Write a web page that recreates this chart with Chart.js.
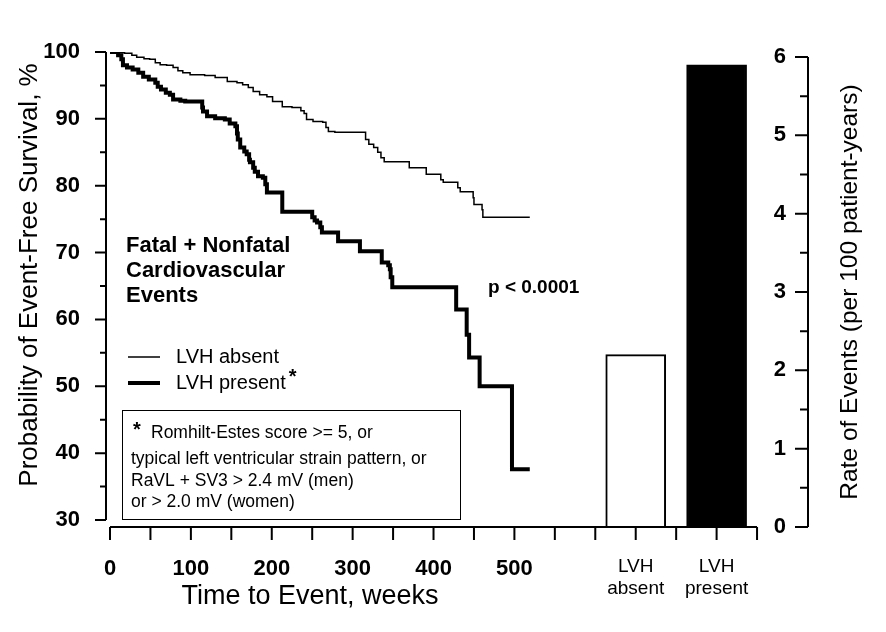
<!DOCTYPE html>
<html>
<head>
<meta charset="utf-8">
<title>LVH and cardiovascular events</title>
<script src="https://cdn.jsdelivr.net/npm/chart.js@4.4.0/dist/chart.umd.min.js"></script>
<style>
  html, body { margin: 0; padding: 0; background: #fff; }
  canvas { display: block; }
</style>
</head>
<body>
<canvas id="myChart" width="886" height="632"></canvas>
<script>
// Kaplan-Meier curves (weeks, % event-free)
const weeksAbsent = [0, 10, 18, 27, 33, 42, 49, 56, 62, 70, 78, 84, 90, 99, 117, 130, 145, 157, 164, 171,
  177, 185, 194, 201, 213, 225, 236, 240, 243, 251, 263, 267, 270, 278, 316, 320, 326, 331, 335, 339,
  370, 391, 409, 412, 430, 433, 449, 450, 460, 461, 519];
const survAbsent = [100, 99.9, 99.8, 99.5, 99.2, 99.0, 98.9, 98.4, 98.1, 98.0, 97.7, 97.2, 96.9, 96.6, 96.5, 96.2, 95.6, 95.4, 95.1, 94.7,
  94.1, 93.6, 93.3, 92.6, 91.8, 91.7, 91.2, 90.8, 89.9, 89.6, 89.5, 88.7, 88.1, 88.0, 86.9, 86.2, 85.7, 85.0, 84.2, 83.6,
  82.7, 81.7, 80.9, 80.5, 79.7, 79.1, 78.2, 77.2, 76.4, 75.3, 75.3];

const weeksPresent = [0, 10, 14, 16, 21, 28, 35, 41, 48, 56, 59, 63, 69, 74, 78, 87, 93, 114, 115, 120,
  130, 142, 148, 155, 157, 158, 161, 166, 169, 172, 173, 177, 179, 183, 189, 192, 194, 213, 250, 253,
  256, 260, 262, 282, 309, 336, 344, 346, 347, 349, 428, 441, 444, 457, 497, 519];
const survPresent = [100, 99.5, 98.9, 98.0, 97.7, 97.4, 96.9, 96.3, 95.9, 95.4, 94.8, 94.4, 93.9, 93.6, 92.9, 92.7, 92.6, 91.7, 91.1, 90.4,
  90.1, 89.9, 89.3, 88.9, 87.8, 86.9, 85.7, 85.1, 84.7, 83.9, 83.5, 82.7, 82.1, 81.4, 81.2, 80.2, 79.0, 76.1, 75.3, 74.8,
  74.5, 73.8, 73.0, 71.7, 70.2, 68.5, 68.1, 67.5, 66.3, 64.8, 61.5, 57.7, 54.3, 50.0, 37.6, 37.6];

// event rate per 100 patient-years
const groups = [["LVH", "absent"], ["LVH", "present"]];
const rates = [2.2, 5.9];

const weekLabels = [0, 100, 200, 300, 400, 500];
const survLabels = [30, 40, 50, 60, 70, 80, 90, 100];
const rateLabels = [0, 1, 2, 3, 4, 5, 6];

Chart.defaults.font.family = '"Liberation Sans", Arial, Helvetica, sans-serif';
Chart.defaults.color = '#000';

const groupAt = (i) => 650 + 100 * i; // bars sit after the week axis
const groupIndex = (v) => groups.findIndex((g, i) => groupAt(i) === v);

const xTicks = [];
for (let v = 0; v <= 800; v += 50) xTicks.push(v);
const yTicks = [];
for (let v = 30; v <= 100; v += 5) yTicks.push(v);
const y2Ticks = [];
for (let v = 0; v <= 6; v += 0.5) y2Ticks.push(v);

const extras = {
  id: 'extras',
  afterDraw(chart) {
    const ctx = chart.ctx;
    const x = chart.scales.x, y = chart.scales.y, y2 = chart.scales.y2;
    const fam = Chart.defaults.font.family;
    ctx.save();
    ctx.strokeStyle = '#000';
    ctx.fillStyle = '#000';
    ctx.lineWidth = 2;

    // axes lines + ticks
    ctx.beginPath();
    const xl = y.right;
    ctx.moveTo(xl, y.getPixelForValue(30));
    ctx.lineTo(xl, y.getPixelForValue(100));
    y.ticks.forEach(t => {
      const py = y.getPixelForValue(t.value);
      const len = t.value % 10 === 0 ? 11 : 6;
      ctx.moveTo(xl - len, py); ctx.lineTo(xl, py);
    });
    const xr = y2.left;
    ctx.moveTo(xr, y2.getPixelForValue(0));
    ctx.lineTo(xr, y2.getPixelForValue(6));
    y2.ticks.forEach(t => {
      const py = y2.getPixelForValue(t.value);
      const len = t.value % 1 === 0 ? 13 : 8;
      ctx.moveTo(xr - len, py); ctx.lineTo(xr, py);
    });
    const yb = x.top;
    ctx.moveTo(x.getPixelForValue(0), yb);
    ctx.lineTo(x.getPixelForValue(800), yb);
    x.ticks.forEach(t => {
      const px = x.getPixelForValue(t.value);
      ctx.moveTo(px, yb); ctx.lineTo(px, yb + 13);
    });
    ctx.stroke();

    // right axis labels sit inside the axis line
    ctx.font = 'bold 22px ' + fam;
    ctx.textAlign = 'right';
    ctx.textBaseline = 'middle';
    y2.ticks.forEach(t => {
      if (rateLabels.includes(t.value)) ctx.fillText(String(t.value), xr - 22, y2.getPixelForValue(t.value));
    });

    // axis titles
    ctx.textBaseline = 'alphabetic';
    ctx.textAlign = 'center';
    ctx.font = '27px ' + fam;
    ctx.fillText('Time to Event, weeks', 310, 604);
    ctx.save();
    ctx.translate(37, 275);
    ctx.rotate(-Math.PI / 2);
    ctx.font = '26px ' + fam;
    ctx.fillText('Probability of Event-Free Survival, %', 0, 0);
    ctx.restore();
    ctx.save();
    ctx.translate(857, 292);
    ctx.rotate(-Math.PI / 2);
    ctx.font = '24.5px ' + fam;
    ctx.fillText('Rate of Events (per 100 patient-years)', 0, 0);
    ctx.restore();

    // legend
    ctx.textAlign = 'left';
    ctx.textBaseline = 'middle';
    chart.data.datasets.slice(0, 2).forEach((ds, i) => {
      const ly = 357 + i * 26;
      ctx.lineWidth = ds.borderWidth;
      ctx.beginPath();
      ctx.moveTo(128, ly); ctx.lineTo(160, ly);
      ctx.stroke();
      ctx.font = '20px ' + fam;
      ctx.fillText(ds.label, 176, ly);
      if (i === 1) {
        const w = ctx.measureText(ds.label).width;
        ctx.font = 'bold 20px ' + fam;
        ctx.fillText('*', 176 + w + 3, ly - 6);
      }
    });

    // event label + p value
    ctx.textBaseline = 'alphabetic';
    ctx.font = 'bold 22px ' + fam;
    ['Fatal + Nonfatal', 'Cardiovascular', 'Events'].forEach((s, i) => ctx.fillText(s, 126, 252 + i * 25));
    ctx.font = 'bold 19px ' + fam;
    ctx.textBaseline = 'middle';
    ctx.fillText('p < 0.0001', 488, 288);

    // footnote box
    ctx.lineWidth = 1;
    ctx.strokeRect(122.5, 410.5, 338, 109);
    ctx.font = 'bold 20px ' + fam;
    ctx.fillText('*', 133, 430);
    ctx.font = '17.5px ' + fam;
    ctx.fillText('Romhilt-Estes score >= 5, or', 151, 433);
    ctx.fillText('typical left ventricular strain pattern, or', 131, 459);
    ctx.fillText('RaVL + SV3 > 2.4 mV (men)', 131, 481);
    ctx.fillText('or > 2.0 mV (women)', 131, 502);
    ctx.restore();
  }
};

new Chart(document.getElementById('myChart'), {
  type: 'line',
  data: {
    datasets: [
      {
        label: 'LVH absent',
        data: weeksAbsent.map((w, i) => ({ x: w, y: survAbsent[i] })),
        borderColor: '#000',
        borderWidth: 1.5,
        stepped: true,
        pointRadius: 0,
        fill: false,
        yAxisID: 'y'
      },
      {
        label: 'LVH present',
        data: weeksPresent.map((w, i) => ({ x: w, y: survPresent[i] })),
        borderColor: '#000',
        borderWidth: 4,
        stepped: true,
        pointRadius: 0,
        fill: false,
        yAxisID: 'y'
      },
      {
        type: 'bar',
        label: 'Rate of Events',
        data: rates.map((r, i) => ({ x: groupAt(i), y: r })),
        backgroundColor: ['#fff', '#000'],
        borderColor: '#000',
        borderWidth: 2,
        barThickness: 60,
        yAxisID: 'y2'
      }
    ]
  },
  options: {
    responsive: false,
    animation: false,
    devicePixelRatio: 1,
    events: [],
    layout: { padding: { top: 52, left: 0, right: 0, bottom: 0 } },
    plugins: { legend: { display: false }, tooltip: { enabled: false } },
    scales: {
      x: {
        type: 'linear',
        min: -4.95,
        max: 863,
        offset: false,
        grid: { display: false },
        border: { display: false },
        afterFit: (s) => { s.height = 105; },
        afterBuildTicks: (s) => { s.ticks = xTicks.map(v => ({ value: v })); },
        ticks: {
          autoSkip: false,
          maxRotation: 0,
          padding: 21,
          color: '#000',
          font: (c) => (c.tick && groupIndex(c.tick.value) >= 0)
            ? { size: 19, weight: 'normal', lineHeight: 1.15 }
            : { size: 22, weight: 'bold', lineHeight: 1.2 },
          callback: (v) => {
            if (weekLabels.includes(v)) return String(v);
            const gi = groupIndex(v);
            return gi >= 0 ? groups[gi] : '';
          }
        }
      },
      y: {
        position: 'left',
        min: 28.95,
        max: 100,
        grid: { display: false },
        border: { display: false },
        afterFit: (s) => { s.width = 106; },
        afterBuildTicks: (s) => { s.ticks = yTicks.map(v => ({ value: v })); },
        ticks: {
          autoSkip: false,
          padding: 18,
          font: { size: 22, weight: 'bold' },
          callback: (v) => survLabels.includes(v) ? String(v) : ''
        }
      },
      y2: {
        position: 'right',
        min: 0,
        max: 6.064,
        grid: { display: false },
        border: { display: false },
        afterFit: (s) => { s.width = 78; },
        afterBuildTicks: (s) => { s.ticks = y2Ticks.map(v => ({ value: v })); },
        ticks: { display: false, autoSkip: false }
      }
    }
  },
  plugins: [extras]
});
</script>
</body>
</html>
